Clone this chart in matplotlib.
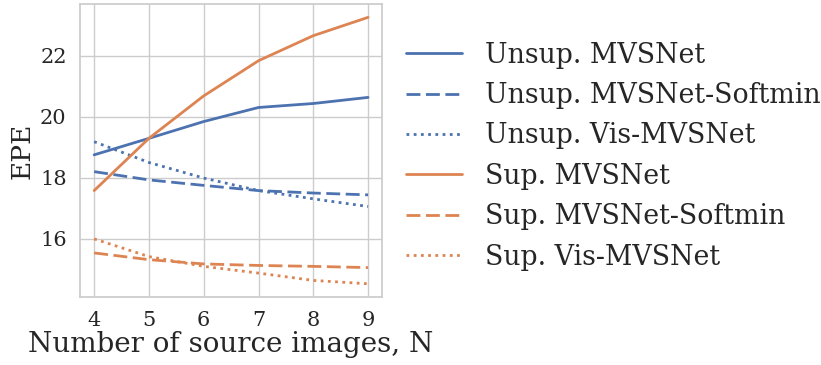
import matplotlib
matplotlib.use("Agg")
import matplotlib.pyplot as plt
import seaborn as sns

sns.set_theme(style="whitegrid", font="serif")
plt.rcParams["font.family"] = ["DejaVu Serif"]

n_src = [4, 5, 6, 7, 8, 9]
unsup_mvsnet = [18.75, 19.29, 19.84, 20.30, 20.43, 20.63]
unsup_softmin = [18.20, 17.93, 17.75, 17.58, 17.50, 17.44]
unsup_vis = [19.18, 18.50, 17.99, 17.58, 17.31, 17.06]
sup_mvsnet = [17.58, 19.29, 20.68, 21.83, 22.65, 23.25]
sup_softmin = [15.54, 15.32, 15.18, 15.13, 15.10, 15.06]
sup_vis = [16.00, 15.42, 15.10, 14.88, 14.64, 14.53]

blue, orange = sns.color_palette("deep")[0], sns.color_palette("deep")[1]

fig = plt.figure(figsize=(8.21, 3.65), dpi=100)
ax = fig.add_axes([0.098, 0.186, 0.367, 0.803])
lw = 2.0
ax.plot(n_src, unsup_mvsnet, color=blue, lw=lw, ls="-", label="Unsup. MVSNet")
ax.plot(n_src, unsup_softmin, color=blue, lw=lw, ls=(0, (5, 2)), label="Unsup. MVSNet-Softmin")
ax.plot(n_src, unsup_vis, color=blue, lw=lw, ls=(0, (1, 1.6)), label="Unsup. Vis-MVSNet")
ax.plot(n_src, sup_mvsnet, color=orange, lw=lw, ls="-", label="Sup. MVSNet")
ax.plot(n_src, sup_softmin, color=orange, lw=lw, ls=(0, (5, 2)), label="Sup. MVSNet-Softmin")
ax.plot(n_src, sup_vis, color=orange, lw=lw, ls=(0, (1, 1.6)), label="Sup. Vis-MVSNet")

ax.set_xticks(n_src)
ax.set_yticks([16, 18, 20, 22])
ax.tick_params(labelsize=15, pad=4)
ax.set_xlabel("Number of source images, N", fontsize=20, labelpad=1)
ax.set_ylabel("EPE", fontsize=19, labelpad=4)

leg = ax.legend(loc="upper left", bbox_to_anchor=(1.0, 0.954), frameon=False,
                fontsize=19.3, handlelength=2.1, labelspacing=0.5, handletextpad=0.86)

fig.savefig("out.png", dpi=100)
